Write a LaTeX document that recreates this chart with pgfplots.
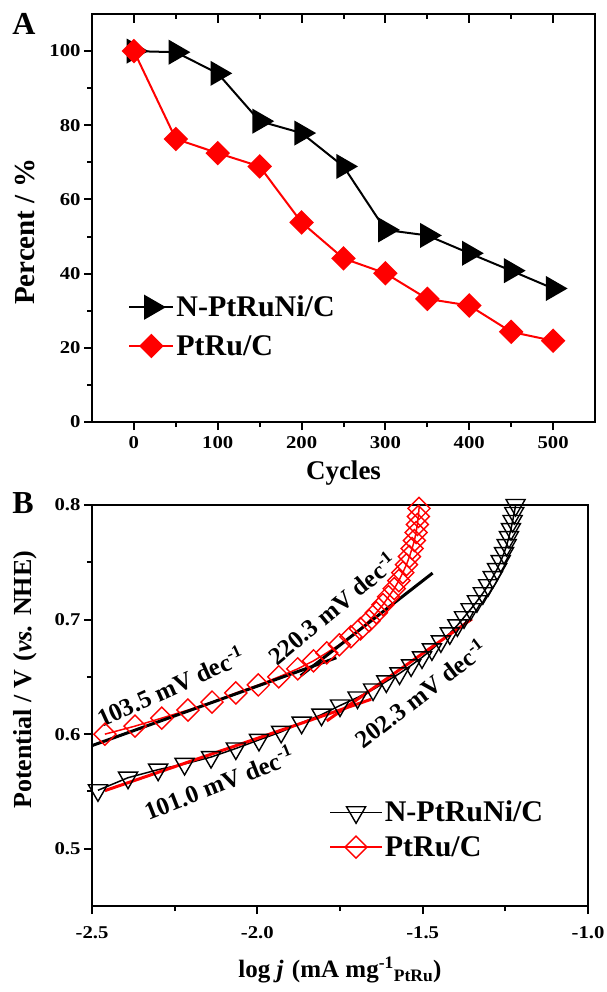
\documentclass[border=0pt]{standalone}
\usepackage{fontspec}
\setmainfont{Liberation Serif}
\newfontfamily\tickfont{Liberation Serif}[FakeStretch=1.15]
\usepackage{pgfplots}
\pgfplotsset{compat=1.18}
\newcommand{\fs}[1]{\bfseries\fontsize{#1}{#1}\selectfont}
\begin{document}
\begin{tikzpicture}
\path[use as bounding box] (0pt,0pt) rectangle (606pt,-992pt);

% ---------- panel A ----------
\begin{axis}[
  at={(92pt,-422pt)}, anchor=south west,
  scale only axis, width=503pt, height=408pt,
  xmin=-50, xmax=550, ymin=0, ymax=110,
  xtick={0,100,...,500}, minor xtick={50,150,...,450},
  ytick={0,20,...,100}, minor ytick={10,30,...,90},
  xtick pos=bottom, ytick pos=left, tick align=outside,
  major tick length=8pt, minor tick length=5pt,
  every tick/.style={black, line width=2pt},
  axis line style={line width=2.4pt},
  /pgf/number format/assume math mode=true,
  ticklabel style={font=\tickfont\fs{18}},
  xticklabel style={yshift=-3pt},
  xlabel={Cycles}, ylabel={Percent / \%},
  xlabel style={font=\fs{27}, at={(axis description cs:0.5,-0.125)}, anchor=center},
  ylabel style={font=\fs{29}, at={(axis description cs:-0.133,0.466)}, anchor=center},
  legend style={at={(0.066,0.319)}, anchor=north west, draw=none, fill=none,
    font=\fs{30}, row sep=13pt},
  legend cell align=left,
  legend image code/.code={\draw[#1, mark repeat=2, mark phase=2]
    plot coordinates {(0pt,0pt) (22pt,0pt) (44pt,0pt)};},
]
\addplot[black, line width=2pt, mark=triangle*, mark size=12.5pt,
  mark options={rotate=-90}] coordinates {
  (0,100) (50,99.7) (100,94) (150,81.1) (200,77.9) (250,68.9)
  (300,51.8) (350,50.3) (400,45.5) (450,40.8) (500,36.0)};
\addplot[red, line width=2pt, mark=square*, mark size=7.7pt,
  mark options={rotate=45}] coordinates {
  (0,100) (50,76.3) (100,72.5) (150,68.9) (200,53.8) (250,44.1)
  (300,40.1) (350,33.2) (400,31.4) (450,24.3) (500,21.9)};
\legend{N-PtRuNi/C, PtRu/C}
\end{axis}

% top ticks of panel A (inside)
\begin{axis}[
  at={(92pt,-422pt)}, anchor=south west,
  scale only axis, width=503pt, height=408pt,
  xmin=-50, xmax=550, ymin=0, ymax=110,
  axis x line*=top, hide y axis,
  xtick={0,100,...,500}, minor xtick={50,150,...,450},
  xticklabels={}, tick align=inside,
  major tick length=9pt, minor tick length=5pt,
  every tick/.style={black, line width=2pt},
  axis line style={line width=2.4pt},
]
\end{axis}

\node[font=\fs{32}] at (24pt,-24pt) {A};

% ---------- panel B ----------
\begin{axis}[
  at={(92pt,-906pt)}, anchor=south west,
  scale only axis, width=496pt, height=401pt,
  xmin=-2.5, xmax=-1.0, ymin=0.45, ymax=0.8,
  xtick={-2.5,-2,-1.5,-1}, xticklabels={-2.5,-2.0,-1.5,-1.0},
  minor xtick={-2.25,-1.75,-1.25},
  ytick={0.5,0.6,0.7,0.8}, yticklabels={0.5,0.6,0.7,0.8},
  minor ytick={0.55,0.65,0.75},
  xtick pos=bottom, ytick pos=left, tick align=outside,
  major tick length=8pt, minor tick length=5pt,
  every tick/.style={black, line width=2pt},
  axis line style={line width=2pt},
  ticklabel style={font=\tickfont\fs{18}},
  xticklabel style={yshift=-9pt},
  xlabel={log \textit{j}\,\,(mA mg\textsuperscript{-1}\textsubscript{PtRu})},
  ylabel={Potential / V\,\,(\textit{vs.} NHE)},
  xlabel style={font=\fs{25}, at={(axis description cs:0.5,-0.16)}, anchor=center},
  ylabel style={font=\fs{26}, at={(axis description cs:-0.135,0.564)}, anchor=center},
  legend style={at={(0.472,0.272)}, anchor=north west, draw=none, fill=none,
    font=\fs{30}, row sep=9pt},
  legend cell align=left,
  legend image code/.code={\draw[#1, mark repeat=2, mark phase=2]
    plot coordinates {(0pt,0pt) (26pt,0pt) (52pt,0pt)};},
]
\addplot[black, line width=1.5pt, mark=triangle, mark size=11pt,
  mark options={rotate=180, line width=1.4pt}] coordinates {
  (-2.482,0.551) (-2.391,0.562) (-2.300,0.569) (-2.220,0.574) (-2.140,0.580)
  (-2.065,0.5875) (-1.995,0.595) (-1.928,0.602) (-1.866,0.610) (-1.806,0.617)
  (-1.750,0.625) (-1.697,0.632) (-1.650,0.639) (-1.610,0.646) (-1.570,0.653)
  (-1.535,0.660) (-1.502,0.667) (-1.472,0.674) (-1.445,0.681) (-1.418,0.688)
  (-1.395,0.695) (-1.375,0.702) (-1.355,0.709) (-1.336,0.716) (-1.318,0.723)
  (-1.302,0.730) (-1.288,0.737) (-1.275,0.744) (-1.264,0.751) (-1.254,0.758)
  (-1.246,0.765) (-1.239,0.772) (-1.233,0.779) (-1.228,0.786) (-1.223,0.793)
  (-1.219,0.800) (-1.215,0.807)};
\addplot[red, line width=1.5pt, mark=square, mark size=7.8pt,
  mark options={rotate=45, line width=1.4pt}] coordinates {
  (-2.461,0.600) (-2.370,0.607) (-2.289,0.614) (-2.210,0.621) (-2.137,0.628)
  (-2.065,0.636) (-1.997,0.643) (-1.935,0.650) (-1.878,0.657) (-1.830,0.664)
  (-1.790,0.671) (-1.752,0.678) (-1.717,0.685) (-1.688,0.692) (-1.662,0.699)
  (-1.640,0.706) (-1.620,0.713) (-1.603,0.720) (-1.586,0.727) (-1.572,0.734)
  (-1.560,0.741) (-1.549,0.748) (-1.540,0.755) (-1.532,0.762) (-1.525,0.769)
  (-1.520,0.776) (-1.516,0.783) (-1.513,0.790) (-1.511,0.797) (-1.510,0.804)};
\legend{N-PtRuNi/C, PtRu/C}
% Tafel fits
\addplot[black, line width=3pt, forget plot] coordinates {(-2.5,0.590) (-1.761,0.6667)};
\addplot[black, line width=3pt, forget plot] coordinates {(-1.869,0.651) (-1.470,0.7406)};
\addplot[red, line width=3pt, forget plot] coordinates {(-2.461,0.5507) (-1.656,0.6304)};
\addplot[red, line width=3pt, forget plot] coordinates {(-1.790,0.6116) (-1.351,0.7006)};
\node[rotate=24.3, font=\fs{25}] at (axis cs:-2.263,0.642) {103.5 mV dec\textsuperscript{-1}};
\node[rotate=39.7, font=\fs{25}] at (axis cs:-1.775,0.710) {220.3 mV dec\textsuperscript{-1}};
\node[rotate=21.6, font=\fs{25}] at (axis cs:-2.117,0.558) {101.0 mV dec\textsuperscript{-1}};
\node[rotate=37.5, font=\fs{25}] at (axis cs:-1.507,0.636) {202.3 mV dec\textsuperscript{-1}};
\end{axis}

\node[font=\fs{32}] at (23pt,-503pt) {B};
\end{tikzpicture}
\end{document}
